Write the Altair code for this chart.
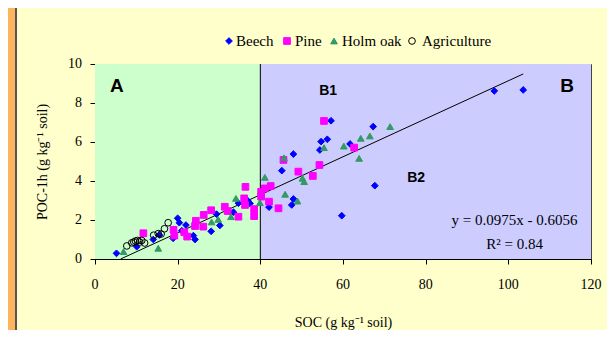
import altair as alt
import pandas as pd

# ---- data ----
beech_x = [5.2, 10.1, 14.1, 15.6, 18.9, 20.0, 20.4, 21.0, 22.0, 23.8, 24.2, 28.1, 29.4, 30.2,
           33.5, 34.7, 36.9, 37.5, 42.1, 45.2, 47.6, 48.0, 48.0, 54.4, 54.7, 56.2, 57.1, 59.7,
           61.7, 67.3, 67.7, 96.6, 103.6]
beech_y = [0.29, 0.63, 1.00, 1.23, 1.06, 2.09, 1.86, 1.45, 1.74, 1.20, 1.00, 1.42, 2.30, 1.72,
           2.40, 2.86, 3.00, 2.85, 2.66, 4.53, 2.77, 3.08, 5.38, 5.59, 6.02, 6.14, 7.09, 2.22,
           5.90, 6.79, 3.76, 8.62, 8.67]

pine_x = [11.7, 19.0, 19.2, 21.6, 22.3, 24.4, 24.2, 26.3, 26.2, 28.1, 31.4, 32.1, 34.7, 36.1,
          36.3, 36.4, 38.5, 38.5, 40.2, 40.2, 41.1, 42.5, 42.1, 44.4, 45.6, 49.2, 52.7, 54.3,
          55.4, 62.7]
pine_y = [1.32, 1.50, 1.20, 1.37, 1.15, 1.96, 1.69, 2.26, 1.66, 2.50, 2.68, 2.46, 2.17, 3.11,
          2.77, 3.70, 2.56, 2.20, 3.45, 3.20, 3.62, 3.74, 2.94, 2.60, 5.08, 4.48, 4.26, 4.82,
          7.08, 5.71]

oak_x = [6.9, 15.3, 28.2, 29.8, 32.9, 34.1, 39.9, 41.1, 45.7, 46.0, 49.0, 50.2, 50.6, 55.4,
         60.2, 63.9, 64.3, 66.5, 71.4]
oak_y = [0.38, 0.55, 1.90, 2.03, 2.17, 3.11, 2.89, 4.19, 5.19, 3.32, 2.97, 4.14, 3.97, 5.71,
         5.79, 5.16, 6.19, 6.31, 6.79]

agri_x = [7.7, 8.9, 9.4, 9.8, 10.3, 10.8, 11.3, 12.0, 14.2, 15.3, 16.0, 16.8, 17.7]
agri_y = [0.67, 0.83, 0.87, 0.92, 0.95, 0.87, 0.95, 0.82, 1.22, 1.30, 1.28, 1.55, 1.86]

series_names = ["Beech", "Pine", "Holm oak", "Agriculture"]
series_fill = ["#0000FF", "#FF00FF", "#339966", "transparent"]
series_stroke = ["#0000FF", "#FF00FF", "#339966", "#000000"]
series_shape = ["diamond", "square", "triangle-up", "circle"]

line_x = [6.2, 103.6]
line_y = [0.0, 9.49]

zone_x = [0, 40]
zone_x2 = [40, 120]
zone_color = ["#CCFFCC", "#CCCCFF"]

label_text = ["A", "B", "B1", "B2"]
label_x = [5.3, 114.2, 56.4, 77.7]
label_y = [8.87, 8.87, 8.59, 4.15]
label_size = [19, 19, 14, 14]

eq_text = ["y = 0.0975x - 0.6056", "R² = 0.84"]
eq_x = [101.5, 101.5]
eq_y = [2.0, 0.77]

x_ticks = [0, 20, 40, 60, 80, 100, 120]
y_ticks = [0, 2, 4, 6, 8, 10]

# ---- tables ----
pts = pd.concat([
    pd.DataFrame({"x": beech_x, "y": beech_y, "s": "Beech"}),
    pd.DataFrame({"x": pine_x, "y": pine_y, "s": "Pine"}),
    pd.DataFrame({"x": oak_x, "y": oak_y, "s": "Holm oak"}),
    pd.DataFrame({"x": agri_x, "y": agri_y, "s": "Agriculture"}),
], ignore_index=True)
zones = pd.DataFrame({"x": zone_x, "x2": zone_x2, "y": [0, 0], "y2": [10, 10], "c": zone_color})
fit = pd.DataFrame({"x": line_x, "y": line_y})
labels = pd.DataFrame({"t": label_text, "x": label_x, "y": label_y, "fs": label_size})
eqs = pd.DataFrame({"t": eq_text, "x": eq_x, "y": eq_y})
xt = pd.DataFrame({"v": x_ticks, "t": [str(v) for v in x_ticks]})
yt = pd.DataFrame({"v": y_ticks, "t": [str(v) for v in y_ticks]})

FONT = "Liberation Serif"
PLOT_W, PLOT_H = 496, 195
xs = alt.Scale(domain=[0, 120], nice=False, zero=False)
ys = alt.Scale(domain=[0, 10], nice=False, zero=False)

xax = alt.Axis(values=x_ticks, grid=False, labels=False,
               title="SOC (g kg⁻¹ soil)", titlePadding=51)
yax = alt.Axis(values=y_ticks, grid=False, labels=False,
               title="POC-1h (g kg⁻¹ soil)", titlePadding=40)


def X(field="x"):
    return alt.X(f"{field}:Q", scale=xs, axis=xax)


def Y(field="y"):
    return alt.Y(f"{field}:Q", scale=ys, axis=yax)


one = pd.DataFrame({"a": [0]})
# decorative orange strip on the left edge
frame = alt.Chart(one).mark_rect(color="#FDB45C").encode(
    x=alt.value(-87), x2=alt.value(-80), y=alt.value(-56), y2=alt.value(266))
frame_line = alt.Chart(one).mark_rule(color="#555555", strokeWidth=2).encode(
    x=alt.value(-79), y=alt.value(-56), y2=alt.value(266))

bg = alt.Chart(zones).mark_rect().encode(
    x=X(), x2="x2", y=Y(), y2="y2", color=alt.Color("c:N", scale=None))

divider = alt.Chart(pd.DataFrame({"x": [40]})).mark_rule(color="black", strokeWidth=1).encode(
    x=X())

line = alt.Chart(fit).mark_line(color="black", strokeWidth=1).encode(x=X(), y=Y())

points = alt.Chart(pts).mark_point(size=45, strokeWidth=1, opacity=1).encode(
    x=X(), y=Y(),
    shape=alt.Shape("s:N", scale=alt.Scale(domain=series_names, range=series_shape), legend=None),
    fill=alt.Fill("s:N", scale=alt.Scale(domain=series_names, range=series_fill), legend=None),
    stroke=alt.Stroke("s:N", scale=alt.Scale(domain=series_names, range=series_stroke), legend=None),
)

# tick labels as text
xlab = alt.Chart(xt).mark_text(font=FONT, fontSize=14, color="black", baseline="middle").encode(
    x=X("v"), y=alt.value(PLOT_H + 26), text="t:N")
ylab = alt.Chart(yt).mark_text(font=FONT, fontSize=14, color="black", align="right",
                               baseline="middle").encode(
    y=Y("v"), x=alt.value(-13), text="t:N")

# legend (horizontal, above the plot)
leg_sym_x = [134, 192, 239, 317]
leg_txt_x = [141, 200, 247, 327]
LEG_Y = -23
legend_layers = []
for i, name in enumerate(series_names):
    legend_layers.append(
        alt.Chart(one).mark_point(shape=series_shape[i], size=45, fill=series_fill[i],
                                  stroke=series_stroke[i], strokeWidth=1, opacity=1).encode(
            x=alt.value(leg_sym_x[i]), y=alt.value(LEG_Y)))
    legend_layers.append(
        alt.Chart(one).mark_text(text=name, font=FONT, fontSize=15, color="black",
                                 align="left", baseline="middle").encode(
            x=alt.value(leg_txt_x[i]), y=alt.value(LEG_Y)))

txt = alt.Chart(labels).mark_text(font="Liberation Sans", fontWeight="bold", color="black").encode(
    x=X(), y=Y(), text="t:N", size=alt.Size("fs:Q", scale=None, legend=None))

eq = alt.Chart(eqs).mark_text(font=FONT, fontSize=15, color="black").encode(
    x=X(), y=Y(), text="t:N")

chart = alt.layer(frame, frame_line, bg, divider, line, points, txt, eq, xlab, ylab,
                  *legend_layers).properties(
    width=PLOT_W, height=PLOT_H, background="#FFFFCC",
    padding={"left": 87, "top": 56, "right": 16, "bottom": 71},
    autosize=alt.AutoSizeParams(type="none"),
).configure_view(stroke="#444444", strokeWidth=1).configure_axis(
    domainColor="black", tickColor="black", tickSize=5,
    titleFont=FONT, titleFontSize=14, titleFontWeight="normal", titleColor="black", grid=False,
)

chart.save("out.html", embed_options={"renderer": "svg", "actions": False})
